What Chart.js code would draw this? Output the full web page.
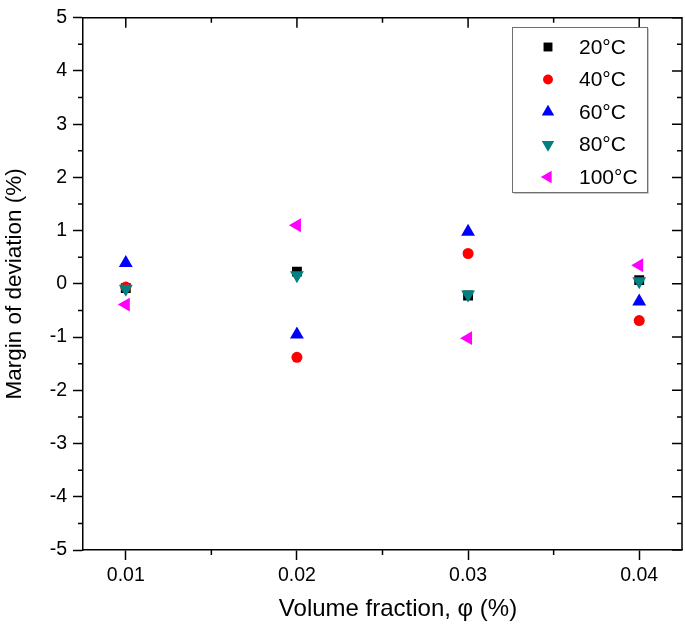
<!DOCTYPE html>
<html>
<head>
<meta charset="utf-8">
<script src="https://cdn.jsdelivr.net/npm/chart.js@4/dist/chart.umd.min.js"></script>
<style>
  html, body { margin: 0; padding: 0; background: #fff; }
  #wrap { width: 685px; height: 629px; }
</style>
</head>
<body>
<div id="wrap"><canvas id="c" width="685" height="629"></canvas></div>
<script>
// ---- data ----
const volumeFractions = [0.01, 0.02, 0.03, 0.04];
const seriesNames = ['20°C', '40°C', '60°C', '80°C', '100°C'];
const dev20  = [-0.08,  0.23, -0.22,  0.07];
const dev40  = [-0.06, -1.38,  0.57, -0.69];
const dev60  = [ 0.39, -0.95,  0.98, -0.33];
const dev80  = [-0.09,  0.16, -0.20,  0.05];
const dev100 = [-0.39,  1.10, -1.02,  0.35];
const xMajorTicks = [0.01, 0.02, 0.03, 0.04];
const xTickLabels = ['0.01', '0.02', '0.03', '0.04'];
const xMinorTicks = [0.015, 0.025, 0.035];
const yMajorTicks = [-5, -4, -3, -2, -1, 0, 1, 2, 3, 4, 5];
const yMinorTicks = [-4.5, -3.5, -2.5, -1.5, -0.5, 0.5, 1.5, 2.5, 3.5, 4.5];
const xAxisTitle = 'Volume fraction, φ (%)';
const yAxisTitle = 'Margin of deviation (%)';

const FONT = "'Liberation Sans', Arial, sans-serif";

const styles = [
  { color: '#000000', pointStyle: 'rect',     rotation: 0,   radius: 7 },
  { color: '#ff0000', pointStyle: 'circle',   rotation: 0,   radius: 5.5 },
  { color: '#0000ff', pointStyle: 'triangle', rotation: 0,   radius: 8 },
  { color: '#008080', pointStyle: 'triangle', rotation: 180, radius: 8 },
  { color: '#ff00ff', pointStyle: 'triangle', rotation: 270, radius: 8 }
];
const allSeries = [dev20, dev40, dev60, dev80, dev100];

const datasets = allSeries.map((vals, i) => ({
  label: seriesNames[i],
  data: vals.map((v, j) => ({ x: volumeFractions[j], y: v })),
  backgroundColor: styles[i].color,
  borderColor: styles[i].color,
  borderWidth: 0,
  pointStyle: styles[i].pointStyle,
  rotation: styles[i].rotation,
  pointRadius: styles[i].radius,
  pointHoverRadius: styles[i].radius,
  order: 5 - i
}));

const isIn = (arr, v) => arr.some(t => Math.abs(t - v) < 1e-9);

const framePlugin = {
  id: 'frame',
  afterDraw(chart) {
    const ctx = chart.ctx;
    const { left, right, top, bottom } = chart.chartArea;
    const xs = chart.scales.x, ys = chart.scales.y;
    ctx.save();
    ctx.strokeStyle = '#000';
    ctx.lineWidth = 1.5;
    ctx.beginPath();
    ctx.moveTo(left, top); ctx.lineTo(right, top); ctx.lineTo(right, bottom);
    ctx.stroke();
    ctx.beginPath();
    xMinorTicks.forEach(v => { const p = xs.getPixelForValue(v); ctx.moveTo(p, bottom); ctx.lineTo(p, bottom + 5); });
    yMinorTicks.forEach(v => { const p = ys.getPixelForValue(v); ctx.moveTo(left, p); ctx.lineTo(left - 5, p); });
    xMajorTicks.forEach(v => { const p = xs.getPixelForValue(v); ctx.moveTo(p, top); ctx.lineTo(p, top + 10); });
    xMinorTicks.forEach(v => { const p = xs.getPixelForValue(v); ctx.moveTo(p, top); ctx.lineTo(p, top + 5); });
    yMajorTicks.forEach(v => { const p = ys.getPixelForValue(v); ctx.moveTo(right, p); ctx.lineTo(right - 10, p); });
    yMinorTicks.forEach(v => { const p = ys.getPixelForValue(v); ctx.moveTo(right, p); ctx.lineTo(right - 5, p); });
    ctx.stroke();

    // x axis title (slightly right of centre, as in the reference)
    ctx.fillStyle = '#000';
    ctx.font = '24px ' + FONT;
    ctx.textAlign = 'center';
    ctx.textBaseline = 'middle';
    ctx.fillText(xAxisTitle, 398, 609);

    // legend box
    const bx = 512, by = 27, bw = 135, bh = 165;
    ctx.fillStyle = '#fff';
    ctx.fillRect(bx, by, bw, bh);
    ctx.strokeStyle = '#c8c8c8';
    ctx.lineWidth = 1;
    ctx.beginPath();
    ctx.moveTo(bx + 1.5, by + bh + 1.5); ctx.lineTo(bx + bw + 1.5, by + bh + 1.5); ctx.lineTo(bx + bw + 1.5, by + 1.5);
    ctx.stroke();
    ctx.strokeStyle = '#707070';
    ctx.strokeRect(bx + 0.5, by + 0.5, bw, bh);
    ctx.font = '21px ' + FONT;
    ctx.textBaseline = 'middle';
    ctx.textAlign = 'left';
    chart.data.datasets.forEach((ds, i) => {
      const cy = by + 20 + i * 32.5;
      ctx.fillStyle = ds.backgroundColor;
      ctx.strokeStyle = ds.borderColor;
      Chart.helpers.drawPoint(ctx, {
        pointStyle: ds.pointStyle,
        rotation: ds.rotation,
        radius: ds.pointRadius * 0.9,
        borderWidth: 0
      }, 548, cy);
      ctx.fillStyle = '#000';
      ctx.fillText(ds.label, 579, cy + 1);
    });
    ctx.restore();
  }
};

new Chart(document.getElementById('c'), {
  type: 'scatter',
  data: { datasets },
  plugins: [framePlugin],
  options: {
    responsive: false,
    animation: false,
    devicePixelRatio: 1,
    layout: { autoPadding: false, padding: { top: 14, right: 3, left: 0, bottom: 0 } },
    plugins: { legend: { display: false }, tooltip: { enabled: false } },
    scales: {
      x: {
        type: 'linear',
        min: 0.0075, max: 0.0425,
        afterBuildTicks(scale) { scale.ticks = xMajorTicks.map(v => ({ value: v })); },
        afterFit(scale) { scale.height = 79; scale.paddingLeft = 0; scale.paddingRight = 0; },
        ticks: {
          color: '#000',
          font: { family: FONT, size: 19.5 },
          padding: 4,
          maxRotation: 0,
          autoSkip: false,
          callback(value) { const k = xMajorTicks.findIndex(t => Math.abs(t - value) < 1e-9); return k >= 0 ? xTickLabels[k] : ''; }
        },
        grid: { drawOnChartArea: false, drawTicks: true, tickLength: 10, tickColor: '#000', tickWidth: 1.5 },
        border: { display: true, color: '#000', width: 1.5 },
        title: { display: false }
      },
      y: {
        type: 'linear',
        min: -5, max: 5,
        afterBuildTicks(scale) { scale.ticks = yMajorTicks.map(v => ({ value: v })); },
        afterFit(scale) { scale.width = 83; },
        ticks: {
          color: '#000',
          font: { family: FONT, size: 19.5 },
          padding: 6,
          autoSkip: false,
          callback(value) { return isIn(yMajorTicks, value) ? String(value) : ''; }
        },
        grid: { drawOnChartArea: false, drawTicks: true, tickLength: 10, tickColor: '#000', tickWidth: 1.5 },
        border: { display: true, color: '#000', width: 1.5 },
        title: { display: true, text: yAxisTitle, color: '#000', font: { family: FONT, size: 22.5 }, padding: { top: 1.5, bottom: 0 } }
      }
    }
  }
});
</script>
</body>
</html>
